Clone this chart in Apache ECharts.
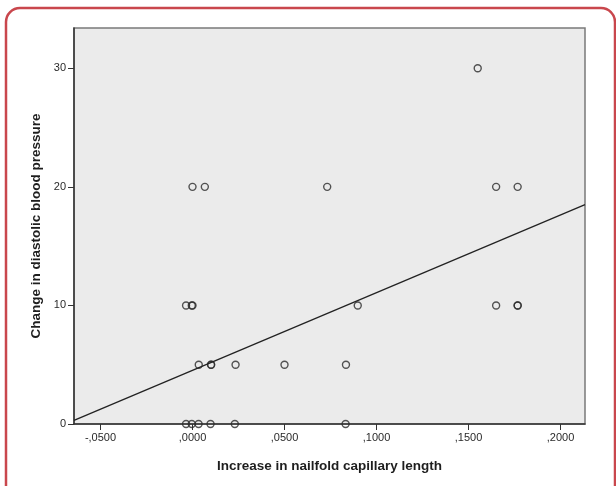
<!DOCTYPE html>
<html>
<head>
<meta charset="utf-8">
<style>
  html, body { margin: 0; padding: 0; background: #fff; }
  #main { width: 616px; height: 486px; }
</style>
<script src="https://cdn.jsdelivr.net/npm/echarts@6/dist/echarts.min.js"></script>
</head>
<body>
<div id="main"></div>
<script>
// scatter points: increase in nailfold capillary length vs change in diastolic BP
var capillaryIncrease = [
    0.155,
    0.0, 0.0067, 0.0732, 0.165, 0.1767,
    -0.0035, -0.0004, 0.0, 0.0898, 0.165, 0.1767, 0.1767,
    0.0034, 0.0101, 0.0101, 0.0234, 0.05, 0.0834,
    -0.0035, -0.0004, 0.0033, 0.0098, 0.023, 0.0832
];
var dbpChange = [
    30,
    20, 20, 20, 20, 20,
    10, 10, 10, 10, 10, 10, 10,
    5, 5, 5, 5, 5, 5,
    0, 0, 0, 0, 0, 0
];

// fit line end points (at the plot edges)
var fitX = [-0.0644, 0.2133];
var fitY = [0.3, 18.5];

var xTickValues = [-0.05, 0, 0.05, 0.1, 0.15, 0.2];
var xTickLabels = ['-,0500', ',0000', ',0500', ',1000', ',1500', ',2000'];
var yTickValues = [0, 10, 20, 30];
var yTickLabels = ['0', '10', '20', '30'];

var points = capillaryIncrease.map(function(x, i) { return [x, dbpChange[i]]; });
var fitLine = fitX.map(function(x, i) { return [x, fitY[i]]; });

var myChart = echarts.init(document.getElementById('main'));

var labelFont = { fontFamily: 'Liberation Sans', fontSize: 11, color: '#2a2a2a' };
var nameFont = { fontFamily: 'Liberation Sans', fontSize: 13.5, fontWeight: 'bold', color: '#1e1e1e' };

var option = {
    backgroundColor: '#fff',
    animation: false,
    graphic: [{
        type: 'rect',
        shape: { x: 6, y: 8, width: 609, height: 500, r: 14 },
        style: { fill: 'none', stroke: '#c9474d', lineWidth: 2.5 },
        silent: true,
        z: 100
    }],
    grid: {
        left: 74, right: 31, top: 28, bottom: 62,
        show: true,
        backgroundColor: '#ebebeb',
        borderColor: '#7a7a7a',
        borderWidth: 1.5
    },
    xAxis: {
        type: 'value',
        min: fitX[0],
        max: fitX[1],
        name: 'Increase in nailfold capillary length',
        nameLocation: 'middle',
        nameGap: 35,
        nameTextStyle: nameFont,
        splitLine: { show: false },
        axisLine: { onZero: false, lineStyle: { color: '#333', width: 1.5 } },
        axisTick: { show: true, length: 6, customValues: xTickValues, lineStyle: { color: '#333' } },
        axisLabel: {
            customValues: xTickValues,
            margin: 8,
            formatter: function(v) {
                var i = xTickValues.findIndex(function(t) { return Math.abs(t - v) < 1e-9; });
                return i >= 0 ? xTickLabels[i] : '';
            },
            fontFamily: labelFont.fontFamily, fontSize: labelFont.fontSize, color: labelFont.color
        }
    },
    yAxis: {
        type: 'value',
        min: 0,
        max: 33.4,
        name: 'Change in diastolic blood pressure',
        nameLocation: 'middle',
        nameGap: 27,
        nameTextStyle: nameFont,
        splitLine: { show: false },
        axisLine: { show: true, onZero: false, lineStyle: { color: '#333', width: 1.5 } },
        axisTick: { show: true, length: 6, customValues: yTickValues, lineStyle: { color: '#333' } },
        axisLabel: {
            customValues: yTickValues,
            margin: 8,
            formatter: function(v) {
                var i = yTickValues.indexOf(v);
                return i >= 0 ? yTickLabels[i] : '';
            },
            fontFamily: labelFont.fontFamily, fontSize: labelFont.fontSize, color: labelFont.color
        }
    },
    series: [{
        type: 'scatter',
        data: points,
        symbol: 'circle',
        symbolSize: 7,
        itemStyle: { color: 'rgba(0,0,0,0)', borderColor: '#2a2a2a', borderWidth: 1.4 }
    }, {
        type: 'line',
        data: fitLine,
        showSymbol: false,
        lineStyle: { color: '#222', width: 1.3 }
    }]
};

myChart.setOption(option);
</script>
</body>
</html>
